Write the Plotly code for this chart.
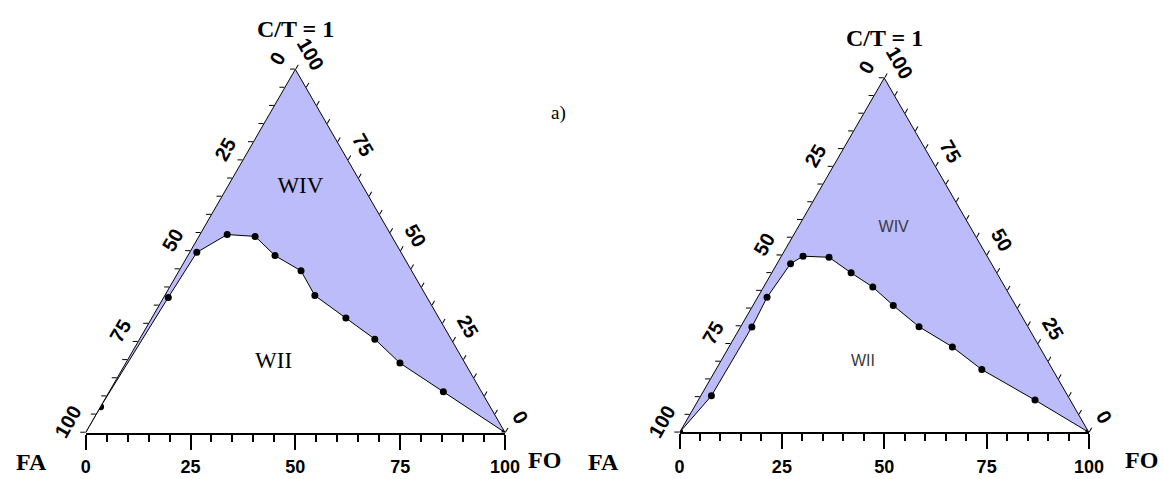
import plotly.graph_objects as go

W, H = 1164, 479

# ---- data (percent). CT = apex "C/T = 1", FA = bottom-left, FO = bottom-right ----
left_CT = [0, 7.1, 37.2, 49.6, 54.5, 54.0, 48.7, 44.5, 37.7, 31.5, 25.7, 19.1, 11.2, 0]
left_FA = [100, 92.9, 61.7, 48.7, 39.0, 32.6, 30.5, 26.4, 26.5, 22.2, 18.2, 15.5, 9.1, 0]
left_FO = [0, 0.0, 1.1, 1.7, 6.5, 13.4, 20.8, 29.1, 35.8, 46.3, 56.1, 65.4, 79.7, 100]
left_dot = [False] + [True] * 13

right_CT = [0, 10.3, 29.7, 38.1, 47.6, 49.7, 49.4, 45.0, 41.0, 35.8, 29.8, 24.1, 17.7, 9.1, 0]
right_FA = [100, 87.1, 67.5, 59.6, 49.1, 45.0, 38.8, 35.6, 32.3, 29.9, 26.6, 21.3, 17.3, 8.6, 0]
right_FO = [0, 2.6, 2.8, 2.3, 3.3, 5.3, 11.8, 19.4, 26.7, 34.3, 43.6, 54.6, 65.0, 82.3, 100]
right_dot = [True] * 15

APEX = (100, 0, 0)  # CT, FA, FO of the top vertex

region_labels = ["WIV", "WII"]
left_label_pos = [(67.6, 15.0, 17.4), (19.2, 45.6, 35.2)]
right_label_pos = [(57.8, 18.8, 23.4), (19.8, 45.3, 34.9)]

major_vals = [0, 25, 50, 75, 100]
minor_vals = list(range(0, 101, 5))

FILL = "rgb(188,188,250)"
TICKFONT = dict(family="Liberation Sans Narrow, Liberation Sans", size=20,
                color="black", weight="bold")
BASEFONT = dict(family="Liberation Sans Narrow, Liberation Sans", size=18,
                color="black", weight="bold")
TITLEFONT = dict(family="Liberation Serif", size=24, color="black", weight="bold")

# triangle placement (pixels): x_left, x_right, y_base, y_apex
tri = {
    "ternary": (85.7, 505.0, 432.5, 69.3),
    "ternary2": (679.5, 1089.0, 432.3, 78.0),
}


def rev(v):
    return str(100 - v)


def edge_axis(angle):
    return dict(
        min=0, tickmode="array", tickvals=minor_vals,
        ticktext=[rev(v) if v % 25 == 0 else "" for v in minor_vals],
        ticks="outside", ticklen=5, tickcolor="black", tickwidth=1,
        showgrid=False, showline=True, linecolor="black", linewidth=1,
        tickangle=angle, tickfont=TICKFONT, title=dict(text=""),
    )


def base_hidden():
    return dict(min=0, showticklabels=False, ticks="", showgrid=False,
                showline=False, title=dict(text=""))


fig = go.Figure()


def add_diagram(sub, CT, FA, FO, dots, label_pos, label_font):
    fig.add_trace(go.Scatterternary(
        a=CT + [APEX[0]], b=FA + [APEX[1]], c=FO + [APEX[2]],
        mode="lines", fill="toself", fillcolor=FILL,
        line=dict(width=0, color=FILL), hoverinfo="skip", subplot=sub,
        showlegend=False,
    ))
    fig.add_trace(go.Scatterternary(
        a=CT, b=FA, c=FO, mode="lines", line=dict(color="black", width=1),
        subplot=sub, showlegend=False,
    ))
    fig.add_trace(go.Scatterternary(
        a=[v for v, d in zip(CT, dots) if d],
        b=[v for v, d in zip(FA, dots) if d],
        c=[v for v, d in zip(FO, dots) if d],
        mode="markers", marker=dict(color="black", size=7),
        subplot=sub, showlegend=False,
    ))
    fig.add_trace(go.Scatterternary(
        a=[p[0] for p in label_pos], b=[p[1] for p in label_pos],
        c=[p[2] for p in label_pos], mode="text", text=region_labels,
        textfont=label_font, subplot=sub, showlegend=False,
    ))


add_diagram("ternary", left_CT, left_FA, left_FO, left_dot, left_label_pos,
            dict(family="Liberation Serif", size=23, color="black"))
add_diagram("ternary2", right_CT, right_FA, right_FO, right_dot, right_label_pos,
            dict(family="Liberation Sans", size=16, color="#3a3a3a"))

layout = dict(
    width=W, height=H, margin=dict(l=0, r=0, t=0, b=0, autoexpand=False),
    paper_bgcolor="white", plot_bgcolor="rgba(0,0,0,0)", showlegend=False,
)
for i, key in enumerate(["ternary", "ternary2"]):
    x0, x1, yb, yt = tri[key]
    xd = [x0 / W, x1 / W]
    yd = [(H - yb) / H, (H - yt) / H]
    layout[key] = dict(
        domain=dict(x=xd, y=yd), sum=100, bgcolor="rgba(0,0,0,0)",
        aaxis=edge_axis(-60), baxis=base_hidden(), caxis=edge_axis(60),
    )
    # cartesian axis for the base (FA -> FO), vertical ticks
    xa = "xaxis" if i == 0 else "xaxis2"
    ya = "yaxis" if i == 0 else "yaxis2"
    layout[xa] = dict(
        domain=xd, range=[0, 100], anchor="y" if i == 0 else "y2",
        automargin=False,
        tickmode="array", tickvals=major_vals,
        ticktext=[str(v) for v in major_vals],
        ticks="outside", ticklen=15, tickwidth=1.5, tickcolor="black",
        showline=True, linewidth=2, linecolor="black", showgrid=False,
        zeroline=False, tickfont=BASEFONT, ticklabelstandoff=2,
        minor=dict(tickvals=minor_vals, ticks="outside", ticklen=7,
                   tickwidth=1.5, tickcolor="black", showgrid=False),
        fixedrange=True,
    )
    layout[ya] = dict(domain=yd, range=[0, 1], visible=False, automargin=False,
                      anchor="x" if i == 0 else "x2", fixedrange=True)
fig.update_layout(**layout)

fig.add_trace(go.Scatter(x=[], y=[], xaxis="x", yaxis="y", showlegend=False))
fig.add_trace(go.Scatter(x=[], y=[], xaxis="x2", yaxis="y2", showlegend=False))

annots = [
    ("C/T = 1", 295, 29),
    ("C/T = 1", 884, 38),
    ("FA", 31, 462),
    ("FA", 603, 462),
    ("FO", 544, 460),
    ("FO", 1141, 460),
]
for txt, x, y in annots:
    fig.add_annotation(x=x / W, y=1 - y / H, xref="paper", yref="paper",
                       text=txt, showarrow=False, font=TITLEFONT,
                       xanchor="center", yanchor="middle")
fig.add_annotation(x=558 / W, y=1 - 100 / H, xref="paper", yref="paper",
                   text="a)", showarrow=False,
                   font=dict(family="Liberation Serif", size=19, color="black"))

fig.write_html("out.html")
